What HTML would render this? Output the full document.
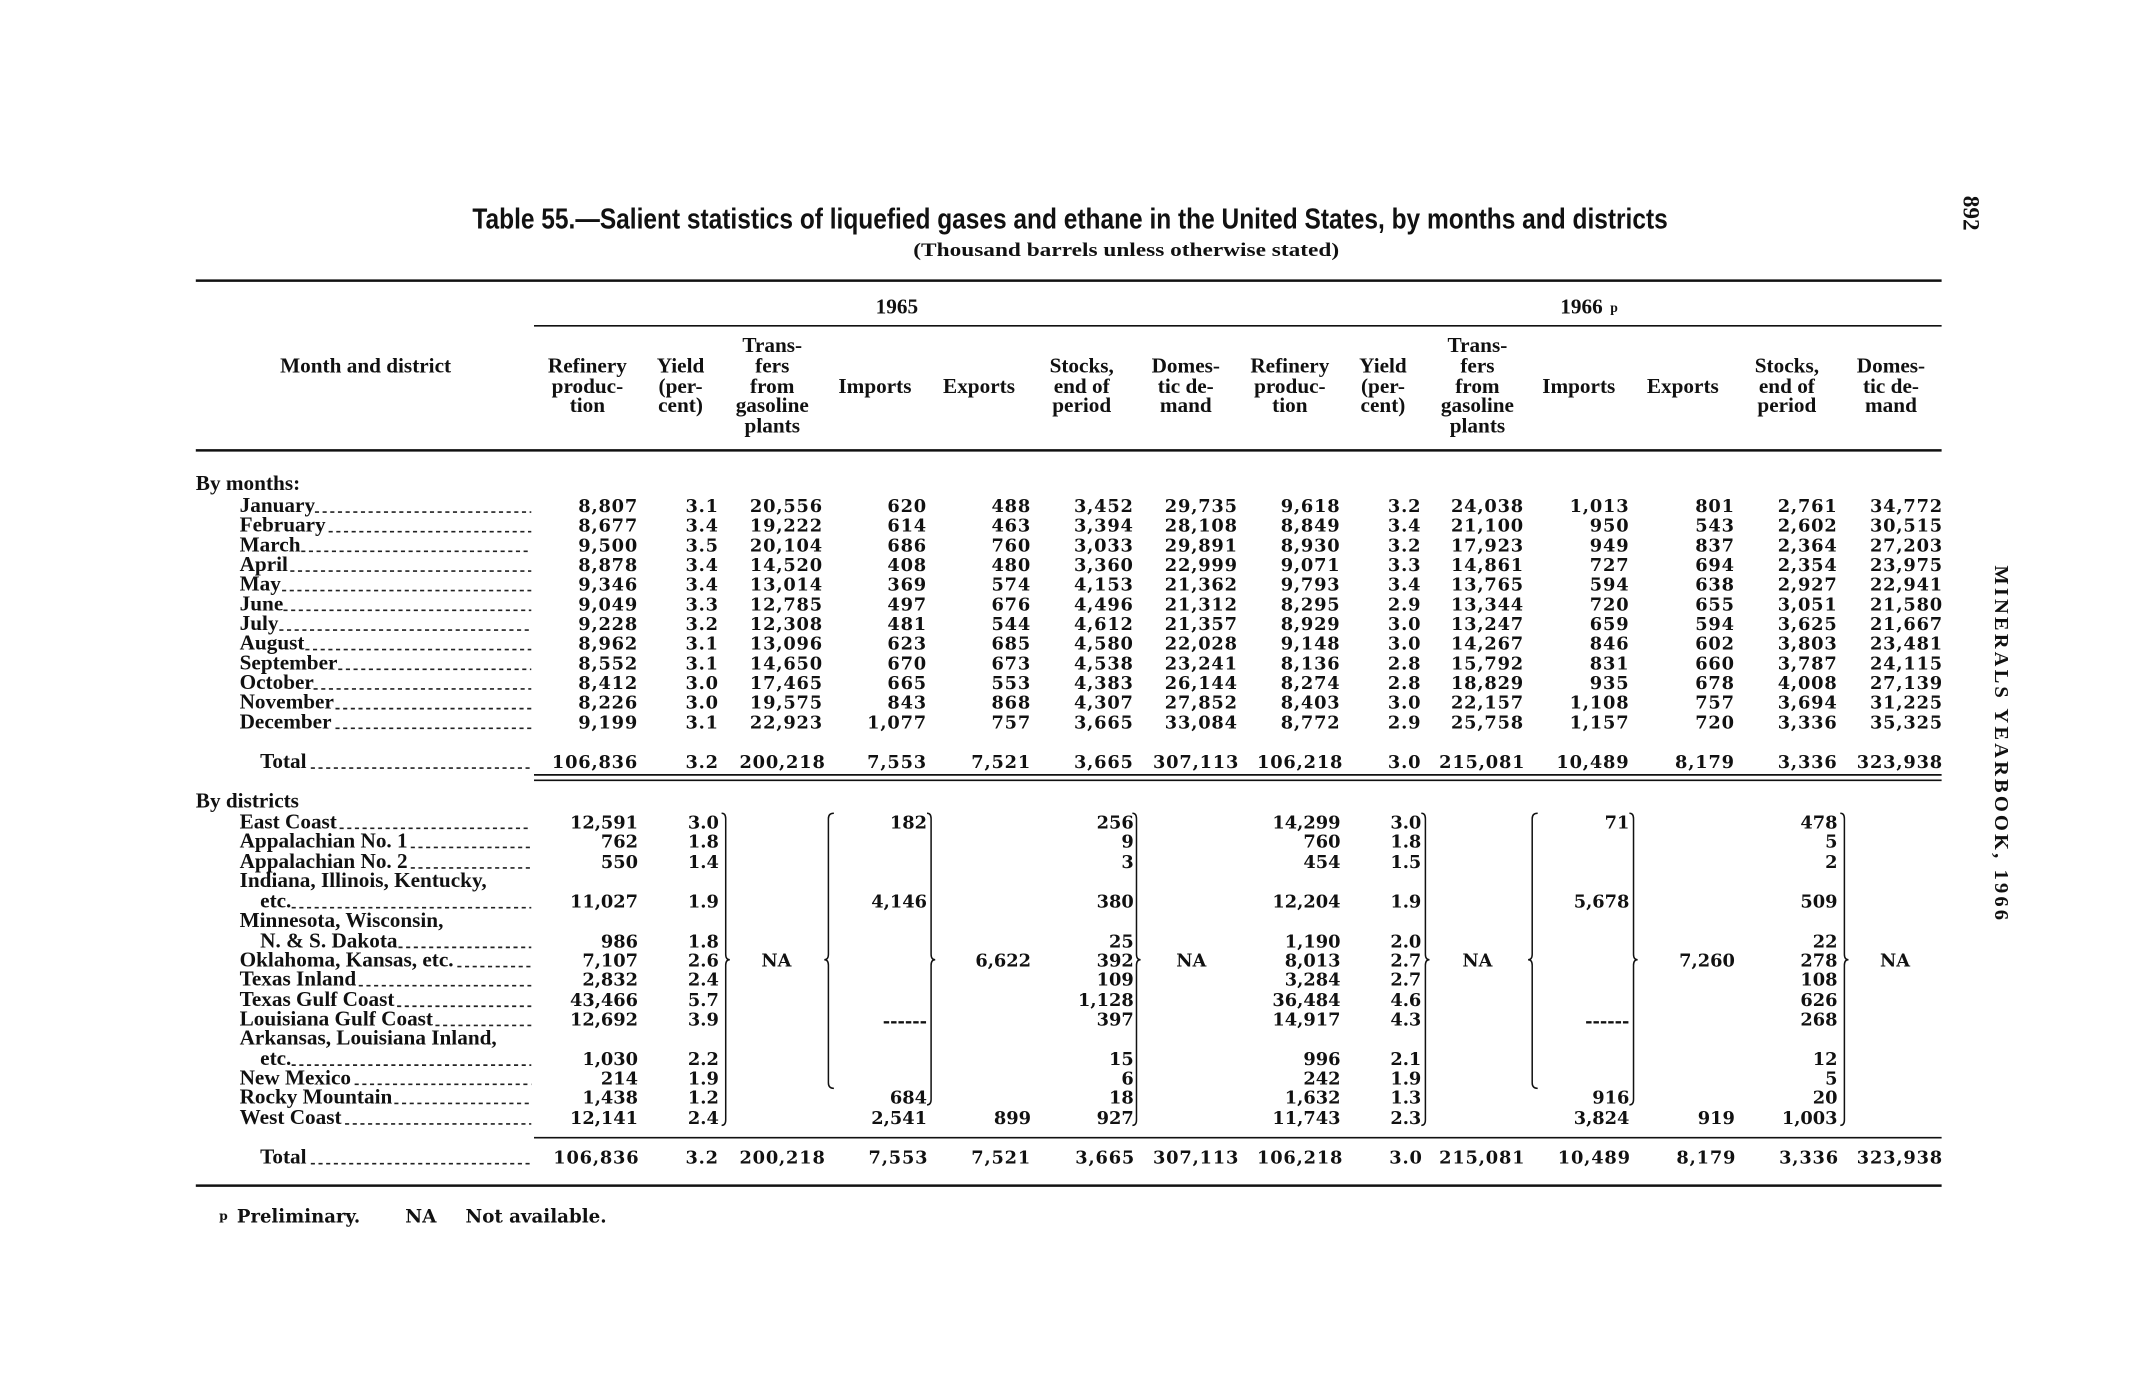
<!DOCTYPE html>
<html><head><meta charset="utf-8"><style>
html,body{margin:0;padding:0;background:#fff;}
svg{display:block;}
.n{font-family:"DejaVu Serif","Liberation Serif",serif;font-weight:bold;font-size:13px;fill:#111;letter-spacing:0.6px;text-anchor:end;}
.l{font-family:"Liberation Serif",serif;font-weight:bold;font-size:15.5px;fill:#111;}
.h{font-family:"Liberation Serif",serif;font-weight:bold;font-size:15.5px;fill:#111;text-anchor:middle;}
.ld{stroke:#222;stroke-width:1.2;stroke-dasharray:3 2.6;}
.r{stroke:#111;}
.b{fill:none;stroke:#111;stroke-width:1.1;}
</style></head><body>
<svg width="2147" height="1380" viewBox="0 0 1568 1008" preserveAspectRatio="none" xmlns="http://www.w3.org/2000/svg">
<rect width="1568" height="1008" fill="#fff"/>
<text x="345" y="167" textLength="873" lengthAdjust="spacingAndGlyphs" style="font-family:'Liberation Sans Narrow','Liberation Sans',sans-serif;font-weight:bold;font-size:21px;fill:#111">Table 55.—Salient statistics of liquefied gases and ethane in the United States, by months and districts</text>
<text x="667" y="187" textLength="311" lengthAdjust="spacingAndGlyphs" class="l" style="font-size:14px">(Thousand barrels unless otherwise stated)</text>
<text transform="translate(1434,143) rotate(90)" class="l" style="font-size:17px">892</text>
<text transform="translate(1457,413) rotate(90)" textLength="259" lengthAdjust="spacing" style="font-family:'Liberation Serif',serif;font-weight:bold;font-size:15px;fill:#111">MINERALS YEARBOOK, 1966</text>
<line class="r" x1="143" y1="205" x2="1418" y2="205" stroke-width="1.8"/>
<line class="r" x1="390" y1="238" x2="1418" y2="238" stroke-width="1.2"/>
<line class="r" x1="143" y1="329" x2="1418" y2="329" stroke-width="1.8"/>
<line class="r" x1="390" y1="566" x2="1418" y2="566" stroke-width="1.2"/>
<line class="r" x1="390" y1="570" x2="1418" y2="570" stroke-width="1.2"/>
<line class="r" x1="390" y1="831" x2="1418" y2="831" stroke-width="1.2"/>
<line class="r" x1="143" y1="866" x2="1418" y2="866" stroke-width="1.8"/>
<text class="h" x="655" y="229">1965</text>
<text class="h" x="1155" y="229">1966</text>
<text x="1176" y="228" class="l" style="font-size:10px">p</text>
<text class="h" x="267" y="272">Month and district</text>
<g class="h">
<text x="429" y="272">Refinery</text><text x="429" y="287">produc-</text><text x="429" y="301">tion</text>
<text x="497" y="272">Yield</text><text x="497" y="287">(per-</text><text x="497" y="301">cent)</text>
<text x="564" y="257">Trans-</text><text x="564" y="272">fers</text><text x="564" y="287">from</text><text x="564" y="301">gasoline</text><text x="564" y="316">plants</text>
<text x="639" y="287">Imports</text>
<text x="715" y="287">Exports</text>
<text x="790" y="272">Stocks,</text><text x="790" y="287">end of</text><text x="790" y="301">period</text>
<text x="866" y="272">Domes-</text><text x="866" y="287">tic de-</text><text x="866" y="301">mand</text>
<text x="942" y="272">Refinery</text><text x="942" y="287">produc-</text><text x="942" y="301">tion</text>
<text x="1010" y="272">Yield</text><text x="1010" y="287">(per-</text><text x="1010" y="301">cent)</text>
<text x="1079" y="257">Trans-</text><text x="1079" y="272">fers</text><text x="1079" y="287">from</text><text x="1079" y="301">gasoline</text><text x="1079" y="316">plants</text>
<text x="1153" y="287">Imports</text>
<text x="1229" y="287">Exports</text>
<text x="1305" y="272">Stocks,</text><text x="1305" y="287">end of</text><text x="1305" y="301">period</text>
<text x="1381" y="272">Domes-</text><text x="1381" y="287">tic de-</text><text x="1381" y="301">mand</text>
</g>
<g class="l">
<text x="143" y="358">By months:</text>
<text x="175" y="374">January</text>
<text x="175" y="388.4">February</text>
<text x="175" y="402.7">March</text>
<text x="175" y="417.1">April</text>
<text x="175" y="431.4">May</text>
<text x="175" y="445.8">June</text>
<text x="175" y="460.2">July</text>
<text x="175" y="474.5">August</text>
<text x="175" y="488.9">September</text>
<text x="175" y="503.2">October</text>
<text x="175" y="517.6">November</text>
<text x="175" y="532">December</text>
<text x="190" y="561">Total</text>
<text x="143" y="590">By districts</text>
<text x="175" y="605">East Coast</text>
<text x="175" y="619">Appalachian No. 1</text>
<text x="175" y="634">Appalachian No. 2</text>
<text x="175" y="648">Indiana, Illinois, Kentucky,</text>
<text x="190" y="663">etc.</text>
<text x="175" y="677">Minnesota, Wisconsin,</text>
<text x="190" y="692">N. &amp; S. Dakota</text>
<text x="175" y="706">Oklahoma, Kansas, etc.</text>
<text x="175" y="720">Texas Inland</text>
<text x="175" y="735">Texas Gulf Coast</text>
<text x="175" y="749">Louisiana Gulf Coast</text>
<text x="175" y="763">Arkansas, Louisiana Inland,</text>
<text x="190" y="778">etc.</text>
<text x="175" y="792">New Mexico</text>
<text x="175" y="806">Rocky Mountain</text>
<text x="175" y="821">West Coast</text>
<text x="190" y="850">Total</text>
</g>
<g class="ld">
<line x1="230" y1="374" x2="388" y2="374"/>
<line x1="240" y1="388.4" x2="388" y2="388.4"/>
<line x1="220" y1="402.7" x2="388" y2="402.7"/>
<line x1="212" y1="417.1" x2="388" y2="417.1"/>
<line x1="206" y1="431.4" x2="388" y2="431.4"/>
<line x1="207" y1="445.8" x2="388" y2="445.8"/>
<line x1="204" y1="460.2" x2="388" y2="460.2"/>
<line x1="223" y1="474.5" x2="388" y2="474.5"/>
<line x1="247" y1="488.9" x2="388" y2="488.9"/>
<line x1="229" y1="503.2" x2="388" y2="503.2"/>
<line x1="245" y1="517.6" x2="388" y2="517.6"/>
<line x1="245" y1="532" x2="388" y2="532"/>
<line x1="227" y1="561" x2="388" y2="561"/>
<line x1="248" y1="605" x2="388" y2="605"/>
<line x1="300" y1="619" x2="388" y2="619"/>
<line x1="300" y1="634" x2="388" y2="634"/>
<line x1="213" y1="663" x2="388" y2="663"/>
<line x1="291" y1="692" x2="388" y2="692"/>
<line x1="334" y1="706" x2="388" y2="706"/>
<line x1="262" y1="720" x2="388" y2="720"/>
<line x1="290" y1="735" x2="388" y2="735"/>
<line x1="318" y1="749" x2="388" y2="749"/>
<line x1="213" y1="778" x2="388" y2="778"/>
<line x1="259" y1="792" x2="388" y2="792"/>
<line x1="288" y1="806" x2="388" y2="806"/>
<line x1="252" y1="821" x2="388" y2="821"/>
<line x1="227" y1="850" x2="388" y2="850"/>
</g>
<g class="n">
<text><tspan x="466" y="374">8,807</tspan><tspan x="466" y="388.4">8,677</tspan><tspan x="466" y="402.7">9,500</tspan><tspan x="466" y="417.1">8,878</tspan><tspan x="466" y="431.4">9,346</tspan><tspan x="466" y="445.8">9,049</tspan><tspan x="466" y="460.2">9,228</tspan><tspan x="466" y="474.5">8,962</tspan><tspan x="466" y="488.9">8,552</tspan><tspan x="466" y="503.2">8,412</tspan><tspan x="466" y="517.6">8,226</tspan><tspan x="466" y="532">9,199</tspan><tspan x="466" y="561">106,836</tspan></text>
<text><tspan x="525" y="374">3.1</tspan><tspan x="525" y="388.4">3.4</tspan><tspan x="525" y="402.7">3.5</tspan><tspan x="525" y="417.1">3.4</tspan><tspan x="525" y="431.4">3.4</tspan><tspan x="525" y="445.8">3.3</tspan><tspan x="525" y="460.2">3.2</tspan><tspan x="525" y="474.5">3.1</tspan><tspan x="525" y="488.9">3.1</tspan><tspan x="525" y="503.2">3.0</tspan><tspan x="525" y="517.6">3.0</tspan><tspan x="525" y="532">3.1</tspan><tspan x="525" y="561">3.2</tspan></text>
<text><tspan x="601" y="374">20,556</tspan><tspan x="601" y="388.4">19,222</tspan><tspan x="601" y="402.7">20,104</tspan><tspan x="601" y="417.1">14,520</tspan><tspan x="601" y="431.4">13,014</tspan><tspan x="601" y="445.8">12,785</tspan><tspan x="601" y="460.2">12,308</tspan><tspan x="601" y="474.5">13,096</tspan><tspan x="601" y="488.9">14,650</tspan><tspan x="601" y="503.2">17,465</tspan><tspan x="601" y="517.6">19,575</tspan><tspan x="601" y="532">22,923</tspan><tspan x="603" y="561">200,218</tspan></text>
<text><tspan x="677" y="374">620</tspan><tspan x="677" y="388.4">614</tspan><tspan x="677" y="402.7">686</tspan><tspan x="677" y="417.1">408</tspan><tspan x="677" y="431.4">369</tspan><tspan x="677" y="445.8">497</tspan><tspan x="677" y="460.2">481</tspan><tspan x="677" y="474.5">623</tspan><tspan x="677" y="488.9">670</tspan><tspan x="677" y="503.2">665</tspan><tspan x="677" y="517.6">843</tspan><tspan x="677" y="532">1,077</tspan><tspan x="677" y="561">7,553</tspan></text>
<text><tspan x="753" y="374">488</tspan><tspan x="753" y="388.4">463</tspan><tspan x="753" y="402.7">760</tspan><tspan x="753" y="417.1">480</tspan><tspan x="753" y="431.4">574</tspan><tspan x="753" y="445.8">676</tspan><tspan x="753" y="460.2">544</tspan><tspan x="753" y="474.5">685</tspan><tspan x="753" y="488.9">673</tspan><tspan x="753" y="503.2">553</tspan><tspan x="753" y="517.6">868</tspan><tspan x="753" y="532">757</tspan><tspan x="753" y="561">7,521</tspan></text>
<text><tspan x="828" y="374">3,452</tspan><tspan x="828" y="388.4">3,394</tspan><tspan x="828" y="402.7">3,033</tspan><tspan x="828" y="417.1">3,360</tspan><tspan x="828" y="431.4">4,153</tspan><tspan x="828" y="445.8">4,496</tspan><tspan x="828" y="460.2">4,612</tspan><tspan x="828" y="474.5">4,580</tspan><tspan x="828" y="488.9">4,538</tspan><tspan x="828" y="503.2">4,383</tspan><tspan x="828" y="517.6">4,307</tspan><tspan x="828" y="532">3,665</tspan><tspan x="828" y="561">3,665</tspan></text>
<text><tspan x="904" y="374">29,735</tspan><tspan x="904" y="388.4">28,108</tspan><tspan x="904" y="402.7">29,891</tspan><tspan x="904" y="417.1">22,999</tspan><tspan x="904" y="431.4">21,362</tspan><tspan x="904" y="445.8">21,312</tspan><tspan x="904" y="460.2">21,357</tspan><tspan x="904" y="474.5">22,028</tspan><tspan x="904" y="488.9">23,241</tspan><tspan x="904" y="503.2">26,144</tspan><tspan x="904" y="517.6">27,852</tspan><tspan x="904" y="532">33,084</tspan><tspan x="905" y="561">307,113</tspan></text>
<text><tspan x="979" y="374">9,618</tspan><tspan x="979" y="388.4">8,849</tspan><tspan x="979" y="402.7">8,930</tspan><tspan x="979" y="417.1">9,071</tspan><tspan x="979" y="431.4">9,793</tspan><tspan x="979" y="445.8">8,295</tspan><tspan x="979" y="460.2">8,929</tspan><tspan x="979" y="474.5">9,148</tspan><tspan x="979" y="488.9">8,136</tspan><tspan x="979" y="503.2">8,274</tspan><tspan x="979" y="517.6">8,403</tspan><tspan x="979" y="532">8,772</tspan><tspan x="981" y="561">106,218</tspan></text>
<text><tspan x="1038" y="374">3.2</tspan><tspan x="1038" y="388.4">3.4</tspan><tspan x="1038" y="402.7">3.2</tspan><tspan x="1038" y="417.1">3.3</tspan><tspan x="1038" y="431.4">3.4</tspan><tspan x="1038" y="445.8">2.9</tspan><tspan x="1038" y="460.2">3.0</tspan><tspan x="1038" y="474.5">3.0</tspan><tspan x="1038" y="488.9">2.8</tspan><tspan x="1038" y="503.2">2.8</tspan><tspan x="1038" y="517.6">3.0</tspan><tspan x="1038" y="532">2.9</tspan><tspan x="1038" y="561">3.0</tspan></text>
<text><tspan x="1113" y="374">24,038</tspan><tspan x="1113" y="388.4">21,100</tspan><tspan x="1113" y="402.7">17,923</tspan><tspan x="1113" y="417.1">14,861</tspan><tspan x="1113" y="431.4">13,765</tspan><tspan x="1113" y="445.8">13,344</tspan><tspan x="1113" y="460.2">13,247</tspan><tspan x="1113" y="474.5">14,267</tspan><tspan x="1113" y="488.9">15,792</tspan><tspan x="1113" y="503.2">18,829</tspan><tspan x="1113" y="517.6">22,157</tspan><tspan x="1113" y="532">25,758</tspan><tspan x="1114" y="561">215,081</tspan></text>
<text><tspan x="1190" y="374">1,013</tspan><tspan x="1190" y="388.4">950</tspan><tspan x="1190" y="402.7">949</tspan><tspan x="1190" y="417.1">727</tspan><tspan x="1190" y="431.4">594</tspan><tspan x="1190" y="445.8">720</tspan><tspan x="1190" y="460.2">659</tspan><tspan x="1190" y="474.5">846</tspan><tspan x="1190" y="488.9">831</tspan><tspan x="1190" y="503.2">935</tspan><tspan x="1190" y="517.6">1,108</tspan><tspan x="1190" y="532">1,157</tspan><tspan x="1190" y="561">10,489</tspan></text>
<text><tspan x="1267" y="374">801</tspan><tspan x="1267" y="388.4">543</tspan><tspan x="1267" y="402.7">837</tspan><tspan x="1267" y="417.1">694</tspan><tspan x="1267" y="431.4">638</tspan><tspan x="1267" y="445.8">655</tspan><tspan x="1267" y="460.2">594</tspan><tspan x="1267" y="474.5">602</tspan><tspan x="1267" y="488.9">660</tspan><tspan x="1267" y="503.2">678</tspan><tspan x="1267" y="517.6">757</tspan><tspan x="1267" y="532">720</tspan><tspan x="1267" y="561">8,179</tspan></text>
<text><tspan x="1342" y="374">2,761</tspan><tspan x="1342" y="388.4">2,602</tspan><tspan x="1342" y="402.7">2,364</tspan><tspan x="1342" y="417.1">2,354</tspan><tspan x="1342" y="431.4">2,927</tspan><tspan x="1342" y="445.8">3,051</tspan><tspan x="1342" y="460.2">3,625</tspan><tspan x="1342" y="474.5">3,803</tspan><tspan x="1342" y="488.9">3,787</tspan><tspan x="1342" y="503.2">4,008</tspan><tspan x="1342" y="517.6">3,694</tspan><tspan x="1342" y="532">3,336</tspan><tspan x="1342" y="561">3,336</tspan></text>
<text><tspan x="1419" y="374">34,772</tspan><tspan x="1419" y="388.4">30,515</tspan><tspan x="1419" y="402.7">27,203</tspan><tspan x="1419" y="417.1">23,975</tspan><tspan x="1419" y="431.4">22,941</tspan><tspan x="1419" y="445.8">21,580</tspan><tspan x="1419" y="460.2">21,667</tspan><tspan x="1419" y="474.5">23,481</tspan><tspan x="1419" y="488.9">24,115</tspan><tspan x="1419" y="503.2">27,139</tspan><tspan x="1419" y="517.6">31,225</tspan><tspan x="1419" y="532">35,325</tspan><tspan x="1419" y="561">323,938</tspan></text>
</g>
<g class="n" style="letter-spacing:0">
<text><tspan x="466" y="605">12,591</tspan><tspan x="466" y="619">762</tspan><tspan x="466" y="634">550</tspan><tspan x="466" y="663">11,027</tspan><tspan x="466" y="692">986</tspan><tspan x="466" y="706">7,107</tspan><tspan x="466" y="720">2,832</tspan><tspan x="466" y="735">43,466</tspan><tspan x="466" y="749">12,692</tspan><tspan x="466" y="778">1,030</tspan><tspan x="466" y="792">214</tspan><tspan x="466" y="806">1,438</tspan><tspan x="466" y="821">12,141</tspan></text>
<text><tspan x="525" y="605">3.0</tspan><tspan x="525" y="619">1.8</tspan><tspan x="525" y="634">1.4</tspan><tspan x="525" y="663">1.9</tspan><tspan x="525" y="692">1.8</tspan><tspan x="525" y="706">2.6</tspan><tspan x="525" y="720">2.4</tspan><tspan x="525" y="735">5.7</tspan><tspan x="525" y="749">3.9</tspan><tspan x="525" y="778">2.2</tspan><tspan x="525" y="792">1.9</tspan><tspan x="525" y="806">1.2</tspan><tspan x="525" y="821">2.4</tspan></text>
<text><tspan x="677" y="605">182</tspan><tspan x="677" y="663">4,146</tspan><tspan x="677" y="750">------</tspan><tspan x="677" y="806">684</tspan><tspan x="677" y="821">2,541</tspan></text>
<text><tspan x="753" y="706">6,622</tspan><tspan x="753" y="821">899</tspan></text>
<text><tspan x="828" y="605">256</tspan><tspan x="828" y="619">9</tspan><tspan x="828" y="634">3</tspan><tspan x="828" y="663">380</tspan><tspan x="828" y="692">25</tspan><tspan x="828" y="706">392</tspan><tspan x="828" y="720">109</tspan><tspan x="828" y="735">1,128</tspan><tspan x="828" y="749">397</tspan><tspan x="828" y="778">15</tspan><tspan x="828" y="792">6</tspan><tspan x="828" y="806">18</tspan><tspan x="828" y="821">927</tspan></text>
<text><tspan x="979" y="605">14,299</tspan><tspan x="979" y="619">760</tspan><tspan x="979" y="634">454</tspan><tspan x="979" y="663">12,204</tspan><tspan x="979" y="692">1,190</tspan><tspan x="979" y="706">8,013</tspan><tspan x="979" y="720">3,284</tspan><tspan x="979" y="735">36,484</tspan><tspan x="979" y="749">14,917</tspan><tspan x="979" y="778">996</tspan><tspan x="979" y="792">242</tspan><tspan x="979" y="806">1,632</tspan><tspan x="979" y="821">11,743</tspan></text>
<text><tspan x="1038" y="605">3.0</tspan><tspan x="1038" y="619">1.8</tspan><tspan x="1038" y="634">1.5</tspan><tspan x="1038" y="663">1.9</tspan><tspan x="1038" y="692">2.0</tspan><tspan x="1038" y="706">2.7</tspan><tspan x="1038" y="720">2.7</tspan><tspan x="1038" y="735">4.6</tspan><tspan x="1038" y="749">4.3</tspan><tspan x="1038" y="778">2.1</tspan><tspan x="1038" y="792">1.9</tspan><tspan x="1038" y="806">1.3</tspan><tspan x="1038" y="821">2.3</tspan></text>
<text><tspan x="1190" y="605">71</tspan><tspan x="1190" y="663">5,678</tspan><tspan x="1190" y="750">------</tspan><tspan x="1190" y="806">916</tspan><tspan x="1190" y="821">3,824</tspan></text>
<text><tspan x="1267" y="706">7,260</tspan><tspan x="1267" y="821">919</tspan></text>
<text><tspan x="1342" y="605">478</tspan><tspan x="1342" y="619">5</tspan><tspan x="1342" y="634">2</tspan><tspan x="1342" y="663">509</tspan><tspan x="1342" y="692">22</tspan><tspan x="1342" y="706">278</tspan><tspan x="1342" y="720">108</tspan><tspan x="1342" y="735">626</tspan><tspan x="1342" y="749">268</tspan><tspan x="1342" y="778">12</tspan><tspan x="1342" y="792">5</tspan><tspan x="1342" y="806">20</tspan><tspan x="1342" y="821">1,003</tspan></text>
</g>
<g class="n" style="text-anchor:middle;letter-spacing:0">
<text x="567" y="706">NA</text><text x="870" y="706">NA</text><text x="1079" y="706">NA</text><text x="1384" y="706">NA</text>
</g>
<g class="n" style="letter-spacing:0.6px">
<text x="467" y="850">106,836</text><text x="525" y="850">3.2</text><text x="603" y="850">200,218</text><text x="678" y="850">7,553</text><text x="753" y="850">7,521</text><text x="829" y="850">3,665</text><text x="905" y="850">307,113</text><text x="981" y="850">106,218</text><text x="1039" y="850">3.0</text><text x="1114" y="850">215,081</text><text x="1191" y="850">10,489</text><text x="1268" y="850">8,179</text><text x="1343" y="850">3,336</text><text x="1419" y="850">323,938</text>
</g>
<path class="b" d="M527,594 Q530,594 530,598 L530,697 Q530,701 533,701 Q530,701 530,705 L530,818 Q530,822 527,822"/>
<path class="b" d="M609,594 Q605,594 605,598 L605,697 Q605,701 602,701 Q605,701 605,705 L605,791 Q605,795 609,795"/>
<path class="b" d="M677,594 Q680,594 680,598 L680,697 Q680,701 683,701 Q680,701 680,705 L680,803 Q680,807 677,807"/>
<path class="b" d="M827,594 Q830,594 830,598 L830,697 Q830,701 833,701 Q830,701 830,705 L830,818 Q830,822 827,822"/>
<path class="b" d="M1038,594 Q1041,594 1041,598 L1041,697 Q1041,701 1044,701 Q1041,701 1041,705 L1041,818 Q1041,822 1038,822"/>
<path class="b" d="M1123,594 Q1119,594 1119,598 L1119,697 Q1119,701 1116,701 Q1119,701 1119,705 L1119,791 Q1119,795 1123,795"/>
<path class="b" d="M1190,594 Q1193,594 1193,598 L1193,697 Q1193,701 1196,701 Q1193,701 1193,705 L1193,803 Q1193,807 1190,807"/>
<path class="b" d="M1344,594 Q1347,594 1347,598 L1347,697 Q1347,701 1350,701 Q1347,701 1347,705 L1347,818 Q1347,822 1344,822"/>
<text x="160" y="891" style="font-family:'DejaVu Serif',serif;font-weight:bold;font-size:9px;fill:#111">p</text>
<text x="173" y="893" style="font-family:'DejaVu Serif',serif;font-size:13.5px;fill:#111;font-weight:bold" textLength="90" lengthAdjust="spacingAndGlyphs">Preliminary.</text>
<text x="296" y="893" style="font-family:'DejaVu Serif',serif;font-size:13.5px;fill:#111;font-weight:bold">NA</text>
<text x="340" y="893" style="font-family:'DejaVu Serif',serif;font-size:13.5px;fill:#111;font-weight:bold" textLength="103" lengthAdjust="spacingAndGlyphs">Not available.</text>
</svg>
</body></html>
